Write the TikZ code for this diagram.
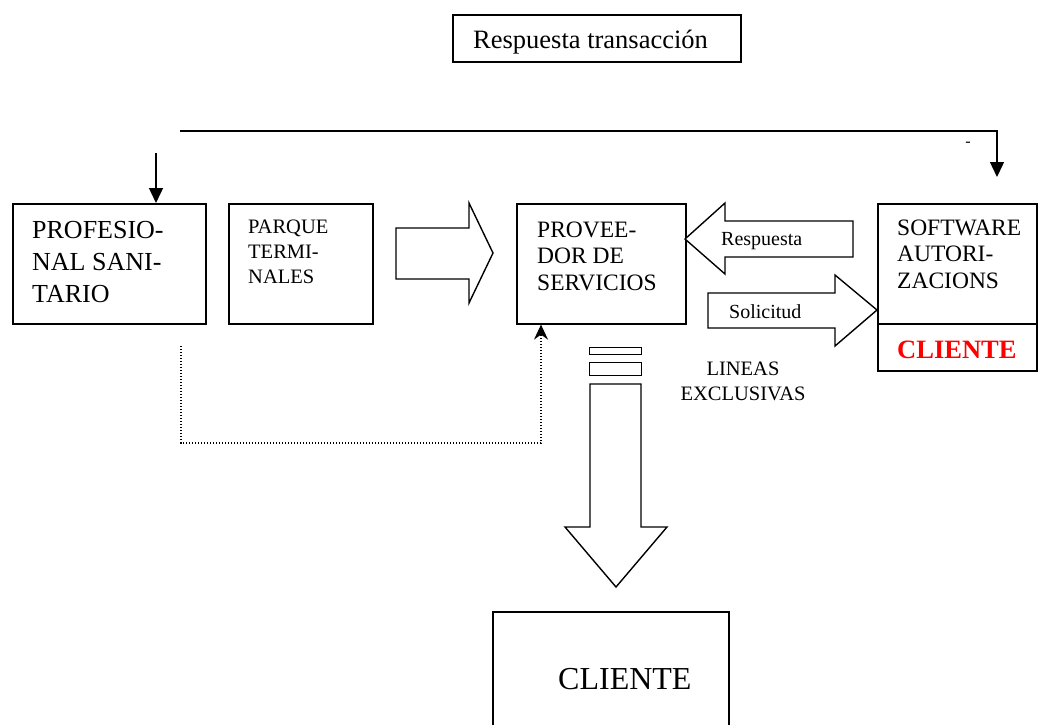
\documentclass[tikz,border=0pt]{standalone}
\usepackage{fontspec}
\setmainfont{Liberation Serif}
\usetikzlibrary{arrows.meta,positioning,calc}
\newcommand\tam[2]{\fontsize{#1}{#2}\selectfont}

\begin{document}
\begin{tikzpicture}[x=1pt,y=-1pt,line join=miter,
      >={Triangle[length=15pt,width=14pt]},
      caja/.style={draw,line width=1.6pt,inner sep=0pt,anchor=north west},
      texto/.style={inner sep=0pt,anchor=north west,align=left},
      bloque/.style={draw,line width=1.4pt,fill=white},
      linea/.style={line width=1.4pt}]
    \path[use as bounding box,clip] (0,0) rectangle (1038,724);

    % cajas
    \node[caja,minimum width=288pt,minimum height=47pt] (resp) at (452,14) {};
    \node[caja,minimum width=193pt,minimum height=120pt] (prof) at (12,203) {};
    \node[caja,minimum width=144pt,minimum height=120pt] (parque) at (228,203) {};
    \node[caja,minimum width=169pt,minimum height=120pt] (prov) at (516,203) {};
    \node[caja,minimum width=159pt,minimum height=120pt] (soft) at (877,203) {};
    \node[caja,minimum width=159pt,minimum height=47pt] (clir) at (877,323) {};
    \node[caja,minimum width=236pt,minimum height=150pt] (cli) at (492,611) {};
    \node[caja,line width=1.3pt,minimum width=52pt,minimum height=7pt] (lin1) at (589,347) {};
    \node[caja,line width=1.3pt,minimum width=52pt,minimum height=13pt] (lin2) at (589,362) {};

    % textos
    \node[inner sep=0pt,anchor=base west,font=\tam{26.5}{30}] (tresp) at (473,48) {Respuesta transacción};
    \node[texto,font=\tam{26}{32},below right=18pt and 20pt of prof.north west] (tprof)
      {PROFESIO-\\NAL SANI-\\TARIO};
    \node[texto,font=\tam{20.5}{25},below right=16.5pt and 20pt of parque.north west] (tparque)
      {PARQUE\\TERMI-\\NALES};
    \node[texto,font=\tam{23.5}{26.5},below right=18.5pt and 21pt of prov.north west] (tprov)
      {PROVEE-\\DOR DE\\SERVICIOS};
    \node[texto,font=\tam{23.5}{26.5},below right=16.5pt and 20pt of soft.north west] (tsoft)
      {SOFTWARE\\AUTORI-\\ZACIONS};
    \node[inner sep=0pt,anchor=base west,font=\tam{26.5}{30}\bfseries,red] (tclir) at (897,358) {CLIENTE};
    \node[inner sep=0pt,anchor=base west,font=\tam{32}{38}] (tcli) at (558,689) {CLIENTE};
    \node[inner sep=0pt,anchor=north,align=center,font=\tam{20.5}{25}] (tlin) at (743,362)
      {LINEAS\\EXCLUSIVAS};
    \node[inner sep=0pt,anchor=base,font=\tam{16}{18}] (guion) at (968,146) {-};

    % flechas de bloque
    \draw[bloque] (396,228) -- (469,228) -- (469,203) -- (493,253) -- (469,303)
      -- (469,279) -- (396,279) -- cycle;
    \draw[bloque] (853,221) -- (725,221) -- (725,203) -- (685,239) -- (725,274)
      -- (725,257) -- (853,257) -- cycle;
    \draw[bloque] (708,293) -- (835,293) -- (835,275) -- (877,310) -- (835,346)
      -- (835,328) -- (708,328) -- cycle;
    \draw[bloque] (590,384) -- (641,384) -- (641,527) -- (667,527) -- (616,587)
      -- (565,527) -- (590,527) -- cycle;
    \node[inner sep=0pt,anchor=base west,font=\tam{20}{24}] (tres) at (721,245) {Respuesta};
    \node[inner sep=0pt,anchor=base west,font=\tam{20}{24}] (tsol) at (729,318) {Solicitud};

    % conectores
    \coordinate (ini) at (180,131);
    \coordinate (fin) at (997,177);
    \draw[linea,->] (ini) -| (fin);
    \coordinate (baja) at (156,153);
    \draw[linea,->] (baja) -- (baja |- prof.north);
    \coordinate (pt) at (181,346);
    \coordinate (pd) at (541,443);
    \draw[line width=1.3pt,dash pattern=on 1.3pt off 1.7pt,
          -{Stealth[length=15pt,width=14pt,inset=5pt]}] (pt) |- (pd) -- (pd |- prov.south);
\end{tikzpicture}
\end{document}
